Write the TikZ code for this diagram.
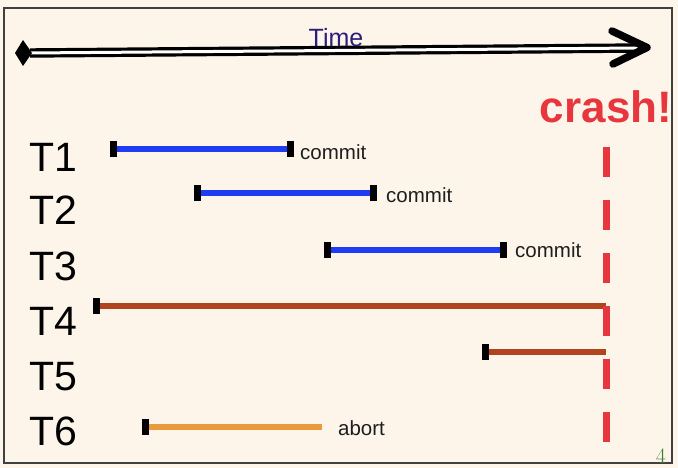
\documentclass[tikz,border=0pt]{standalone}
\usepackage{fontspec}
\newfontfamily\helv{Liberation Sans}
\definecolor{bg}{HTML}{FDF5EA}
\definecolor{navy}{HTML}{2B1F7A}
\definecolor{barblue}{HTML}{1F3CF5}
\definecolor{barbrown}{HTML}{B0441F}
\definecolor{barorange}{HTML}{E89A3C}
\definecolor{crashred}{HTML}{E8363E}
\definecolor{labgray}{HTML}{1E1E1E}
\definecolor{pagegreen}{HTML}{3C7A35}
\begin{document}
\begin{tikzpicture}[x=1pt,y=-1pt,
  frame/.style={draw=black!75,line width=1.5pt},
  tlabel/.style={font=\helv\fontsize{41}{41}\selectfont,inner sep=0pt,anchor=base west},
  lab/.style={font=\helv\fontsize{20.5}{20.5}\selectfont,text=labgray,inner sep=0pt,anchor=base west},
  tick/.style={fill=black,inner sep=0pt,minimum width=7pt,minimum height=16pt},
  bar/.style={line width=6pt},
  crashline/.style={draw=crashred,line width=7pt,dash pattern=on 30pt off 23pt}
]
\fill[bg] (0,0) rectangle (678,468);
\useasboundingbox (0,0) rectangle (678,468);
\draw[frame] (4,8) rectangle (672,463);

% time axis
\coordinate (tl) at (30,53);
\coordinate (tr) at (640,48);
\draw[line width=3.2pt,double=white,double distance=3pt] (tl) -- (tr);
\fill (15,53) -- (23,40) -- (32,53) -- (23,66) -- cycle;
\draw[line width=7.5pt,line cap=round,line join=round] (612,31) -- (647,47.5) -- (613,64);
\node[font=\helv\fontsize{25}{25}\selectfont,text=navy,inner sep=0pt,anchor=base] (time) at (336,47) {Time};

% crash
\node[font=\helv\bfseries\fontsize{44}{44}\selectfont,text=crashred,inner sep=0pt,anchor=base] (crash) at (606,123) {crash!};
\coordinate (cr1) at (606,147);
\coordinate (cr2) at (606,442);

% transaction labels
\node[tlabel] (T1) at (29,172) {T1};
\node[tlabel] (T2) at (29,225) {T2};
\node[tlabel] (T3) at (29,280) {T3};
\node[tlabel] (T4) at (29,335) {T4};
\node[tlabel] (T5) at (29,390) {T5};
\node[tlabel] (T6) at (29,445) {T6};

% bars
\coordinate (a1) at (113,149); \coordinate (b1) at (290,149);
\coordinate (a2) at (197,193); \coordinate (b2) at (373,193);
\coordinate (a3) at (327,250); \coordinate (b3) at (503,250);
\coordinate (a4) at (96,306);  \coordinate (b4) at (606,306);
\coordinate (a5) at (485,352); \coordinate (b5) at (606,352);
\coordinate (a6) at (145,427); \coordinate (b6) at (322,427);

\draw[bar,barblue] (a1) -- (b1);
\draw[bar,barblue] (a2) -- (b2);
\draw[bar,barblue] (a3) -- (b3);
\draw[bar,barbrown] (a4) -- (b4);
\draw[bar,barbrown] (a5) -- (b5);
\draw[bar,barorange] (a6) -- (b6);

\draw[crashline] (cr1) -- (cr2);

\node[tick] (ta1) at (a1) {}; \node[tick] (tb1) at (b1) {};
\node[tick] (ta2) at (a2) {}; \node[tick] (tb2) at (b2) {};
\node[tick] (ta3) at (a3) {}; \node[tick] (tb3) at (b3) {};
\node[tick] (ta4) at (a4) {};
\node[tick] (ta5) at (a5) {};
\node[tick] (ta6) at (a6) {};

\node[lab] (c1) at (300,160) {commit};
\node[lab] (c2) at (386,203) {commit};
\node[lab] (c3) at (515,258) {commit};
\node[lab] (ab) at (338,435) {abort};

\node[font=\fontsize{22}{22}\selectfont,text=pagegreen,inner sep=0pt,anchor=base] (pg) at (661,463) {4};
\end{tikzpicture}
\end{document}
